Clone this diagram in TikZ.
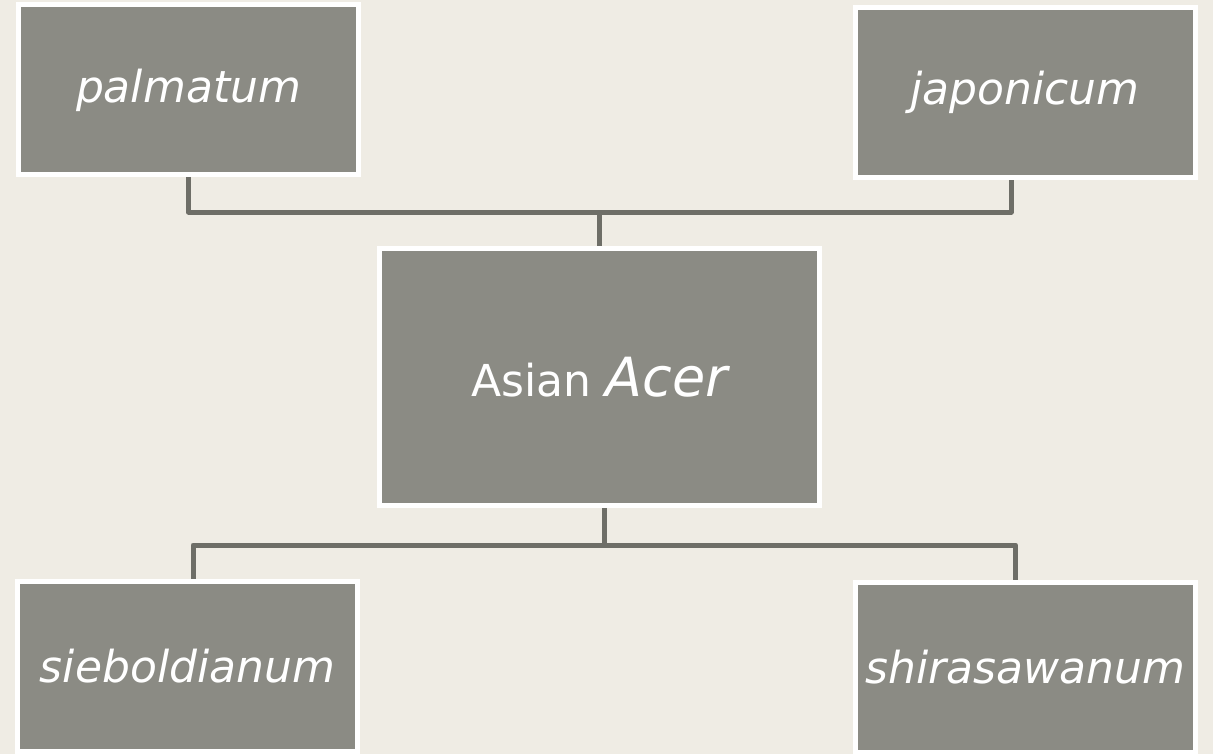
\documentclass[tikz,border=0pt]{standalone}
\usepackage{fontspec}
\setmainfont{DejaVu Sans}
\usetikzlibrary{backgrounds}

\definecolor{paper}{HTML}{EFECE4}
\definecolor{boxgray}{HTML}{8B8B84}
\definecolor{linkgray}{HTML}{6E6E67}

\begin{document}
\begin{tikzpicture}[x=0.5pt,y=-0.5pt,
	species/.style={rectangle,draw=white,line width=2.5pt,fill=boxgray,text=white,inner sep=0pt,
		minimum width=170pt,minimum height=85pt,font=\fontsize{22}{26}\selectfont\itshape},
	link/.style={draw=linkgray,line width=2.5pt,line join=round}]
	\useasboundingbox (0,0) rectangle (1213,754);
	\node[species] (palm) at (188.5,90) {palmatum};
	\node[species] (japo) at (1025,92.5) {japonicum};
	\node[species,minimum width=220pt,minimum height=128.5pt,font=\fontsize{22}{26}\selectfont] (acer) at (599.5,377)
		{Asian {\fontsize{27}{32}\selectfont\itshape Acer}};
	\node[species] (sieb) at (187.5,666) {sieboldianum};
	\node[species] (shir) at (1025.5,667) {shirasawanum};
	\coordinate (topbus) at (600,212);
	\coordinate (lowbus) at (604,545);
	\begin{scope}[on background layer]
		\fill[paper] (0,0) rectangle (1213,754);
		\draw[link] (palm.south) |- (topbus) -| ([xshift=-7pt]japo.south);
		\draw[link] (acer.north |- topbus) -- (acer.north);
		\draw[link] ([xshift=2.25pt]acer.south) -- (lowbus);
		\draw[link] ([xshift=2.75pt]sieb.north) |- (lowbus) -| ([xshift=-5pt]shir.north);
	\end{scope}
\end{tikzpicture}
\end{document}
